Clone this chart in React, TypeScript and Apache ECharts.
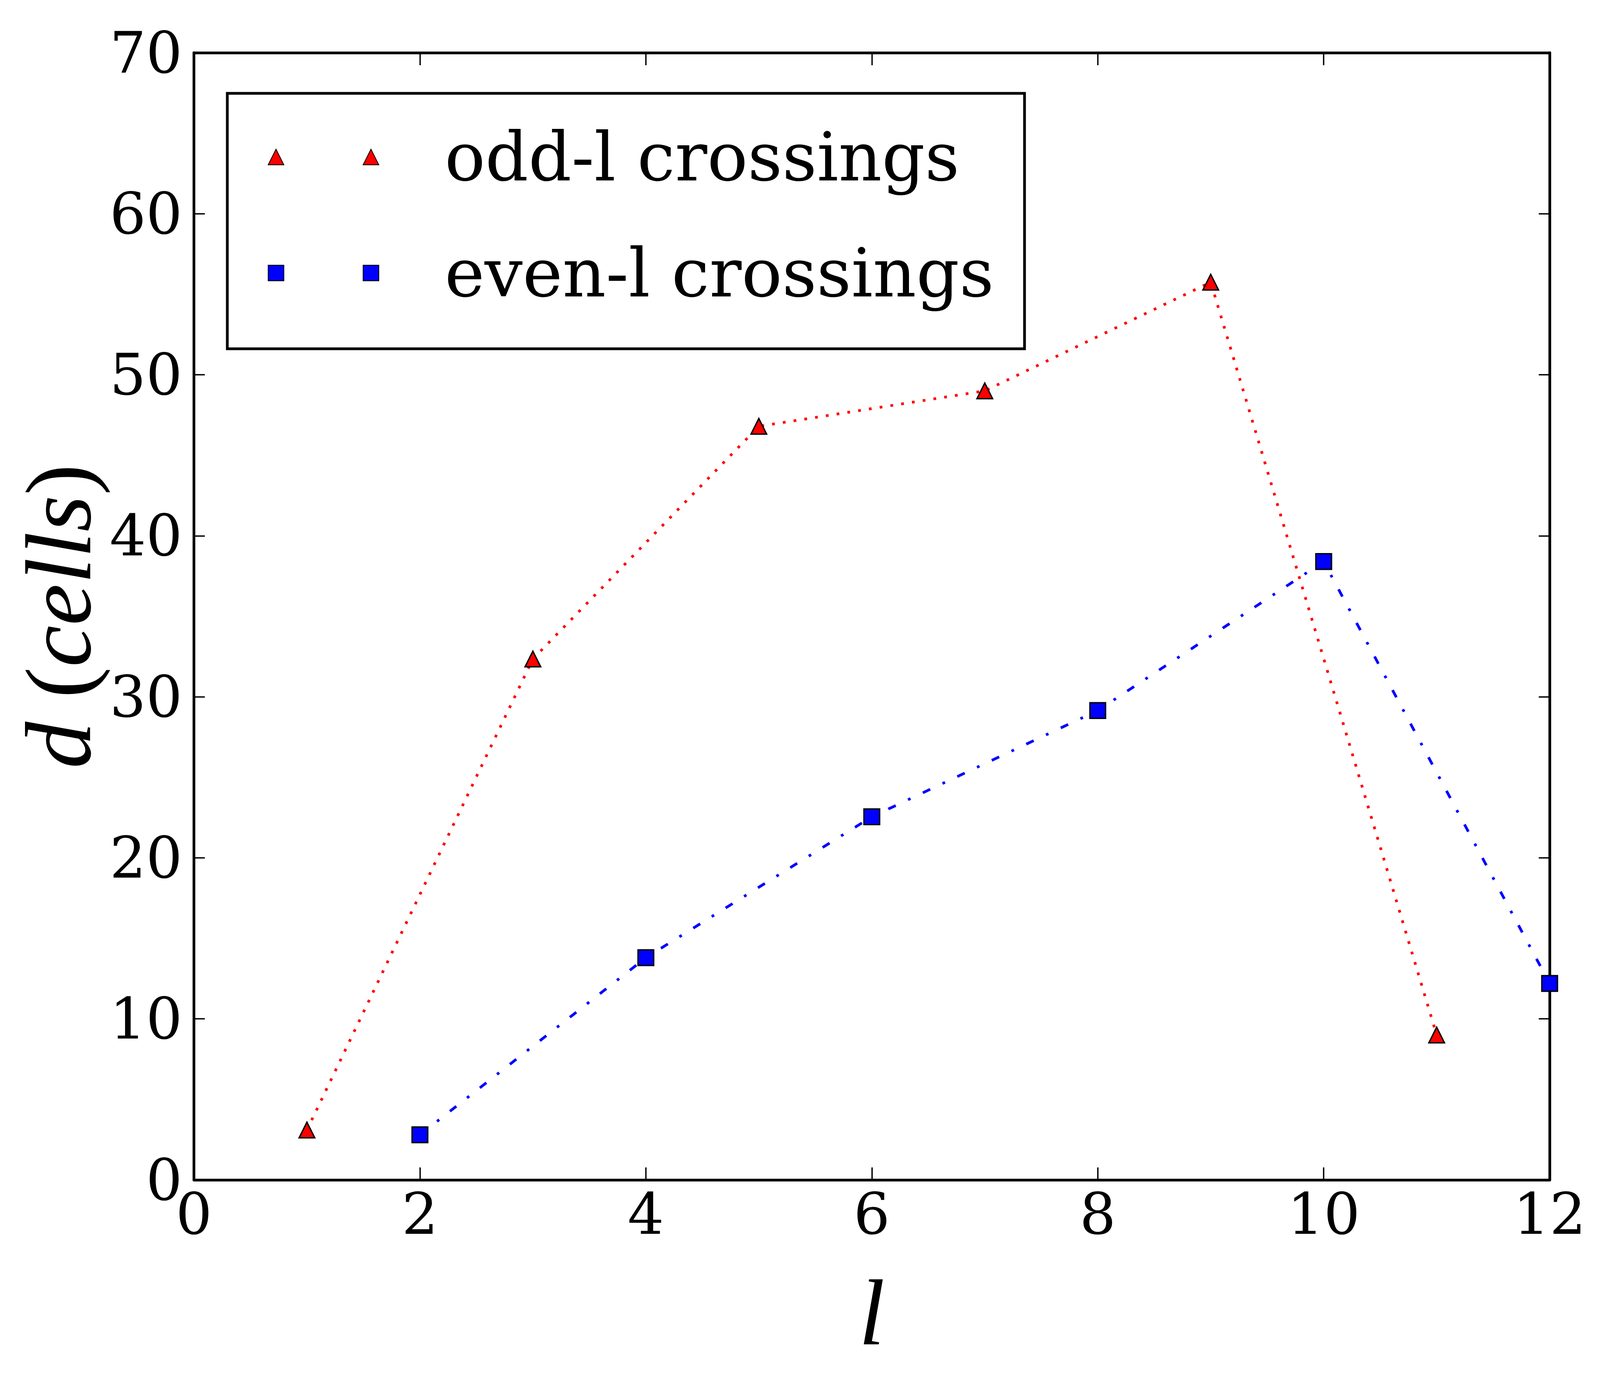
import React, { useEffect, useRef } from "react";
import * as echarts from "echarts";

const oddL = [1, 3, 5, 7, 9, 11];
const oddD = [3.1, 32.35, 46.8, 49.0, 55.75, 9.0];
const evenL = [2, 4, 6, 8, 10, 12];
const evenD = [2.8, 13.8, 22.55, 29.15, 38.4, 12.2];
const seriesNames = ["odd-l crossings", "even-l crossings"];
const xTitle = "l";
const yTitleRich = "{i|d} {r|(}{i|cells}{r|)}";

const FONT = "DejaVu Serif";
const MATH = "Liberation Serif";
const REF_W = 4702;
const REF_H = 3541;

export default function App() {
  const ref = useRef<HTMLDivElement>(null);
  const W = window.innerWidth || REF_W;
  const H = window.innerHeight || REF_H;
  useEffect(() => {
    if (!ref.current) return;
    const sx = W / REF_W;
    const sy = H / REF_H;
    const s = Math.min(sx, sy);
    const chart = echarts.init(ref.current, null, { renderer: "svg" });
    const axisLine = { show: true, onZero: false, lineStyle: { color: "#000", width: 8 * s } };
    const xTick = { show: true, inside: true, length: 32 * sy, lineStyle: { color: "#000", width: 4 * s } };
    const yTick = { show: true, inside: true, length: 32 * sx, lineStyle: { color: "#000", width: 4 * s } };
    const labelStyle = { fontFamily: FONT, fontSize: 168 * sx, color: "#000" };
    const xBase = { type: "value", min: 0, max: 12, interval: 2, splitLine: { show: false }, axisLine, axisTick: xTick };
    const yBase = { type: "value", min: 0, max: 70, interval: 10, splitLine: { show: false }, axisLine, axisTick: yTick };
    const triIcon = "path://M0,46 L23,0 L46,46 Z M279,46 L302,0 L325,46 Z";
    const sqIcon = "path://M0,0 L46,0 L46,46 L0,46 Z M279,0 L325,0 L325,46 L279,46 Z";
    const nameFont = 240 * sy;
    chart.setOption({
      animation: false,
      backgroundColor: "#fff",
      grid: { left: 570 * sx, right: 148 * sx, top: 135 * sy, bottom: 520 * sy, containLabel: false },
      xAxis: [
        {
          ...xBase,
          position: "bottom",
          axisLabel: { ...labelStyle, margin: 14 * sy, showMinLabel: true, showMaxLabel: true },
          name: xTitle,
          nameLocation: "middle",
          nameGap: 220 * sy,
          nameTextStyle: { fontFamily: MATH, fontStyle: "italic", fontSize: nameFont, color: "#000" },
        },
        { ...xBase, position: "top", axisLabel: { show: false } },
      ],
      yAxis: [
        {
          ...yBase,
          position: "left",
          axisLabel: { ...labelStyle, margin: 34 * sx, showMinLabel: true, showMaxLabel: true },
          name: yTitleRich,
          nameLocation: "middle",
          nameGap: 570 * sx - 178 * sx - nameFont / 2,
          nameTextStyle: {
            fontFamily: MATH,
            fontSize: nameFont,
            color: "#000",
            rich: {
              i: { fontFamily: MATH, fontStyle: "italic", fontSize: nameFont, color: "#000" },
              r: { fontFamily: MATH, fontSize: nameFont, color: "#000" },
            },
          },
        },
        { ...yBase, position: "right", axisLabel: { show: false } },
      ],
      legend: {
        show: true,
        orient: "vertical",
        left: 668 * sx,
        top: 239 * sy,
        padding: [43 * sy, 90 * sx, 74 * sy, 119 * sx],
        itemGap: 57 * sy,
        itemWidth: 325 * s,
        itemHeight: 46 * s,
        borderColor: "#000",
        borderWidth: 8 * s,
        backgroundColor: "#fff",
        textStyle: {
          fontFamily: FONT,
          fontSize: 198 * sx,
          color: "#000",
          lineHeight: 240 * sy,
          padding: [0, 0, 0, 188 * sx],
        },
        data: [
          { name: seriesNames[0], icon: triIcon },
          { name: seriesNames[1], icon: sqIcon },
        ],
      },
      series: [
        {
          name: seriesNames[0],
          type: "line",
          data: oddL.map((x, i) => [x, oddD[i]]),
          symbol: "triangle",
          symbolSize: 46 * s,
          showAllSymbol: true,
          itemStyle: { color: "#ff0000", borderColor: "#000", borderWidth: 4 * s },
          lineStyle: { color: "#ff0000", width: 8 * s, type: [8 * s, 24 * s] },
          z: 3,
        },
        {
          name: seriesNames[1],
          type: "line",
          data: evenL.map((x, i) => [x, evenD[i]]),
          symbol: "rect",
          symbolSize: 46 * s,
          showAllSymbol: true,
          itemStyle: { color: "#0000ff", borderColor: "#000", borderWidth: 4 * s },
          lineStyle: { color: "#0000ff", width: 8 * s, type: [24 * s, 40 * s, 8 * s, 40 * s] },
          z: 3,
        },
      ],
    });
    return () => chart.dispose();
  }, []);
  return (
    <div
      ref={ref}
      style={{ position: "fixed", left: 0, top: 0, width: W, height: H, background: "#fff" }}
    />
  );
}
